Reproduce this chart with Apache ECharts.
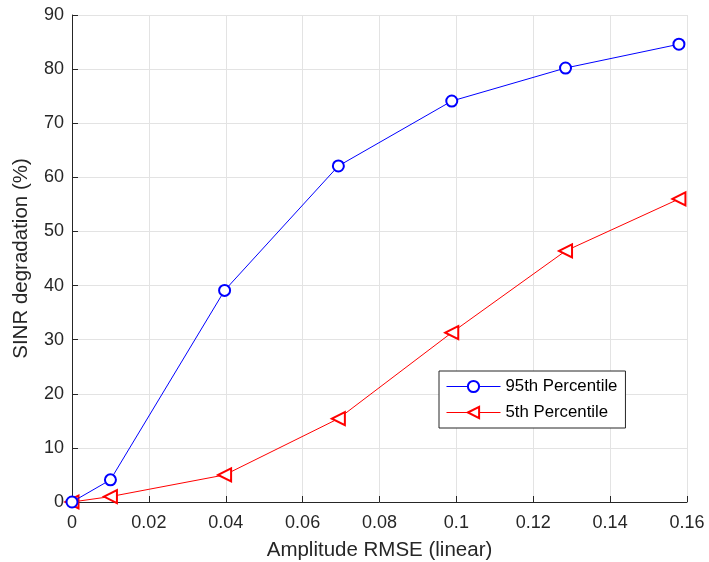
<!DOCTYPE html>
<html>
<head>
<meta charset="utf-8">
<script src="https://cdn.jsdelivr.net/npm/echarts@6/dist/echarts.min.js"></script>
<style>
  html, body { margin: 0; padding: 0; background: #fff; }
  #container { width: 709px; height: 562px; }
</style>
</head>
<body>
<div id="container"></div>
<script>
// amplitude RMSE (linear) at each measured point
var rmse = [0, 0.01, 0.0397, 0.0693, 0.0988, 0.1284, 0.1579]
// SINR degradation (%)
var p95 = [0, 4.1, 39.1, 62.1, 74.1, 80.2, 84.6]
var p5 = [0, 1.0, 5.0, 15.4, 31.3, 46.4, 56.0]
var seriesNames = ['95th Percentile', '5th Percentile']

var font = '"Liberation Sans", Arial, Helvetica, sans-serif'
var axisColor = '#262626'

function pairs(xs, ys) {
  return xs.map(function (x, i) { return [x, ys[i]] })
}

var dom = document.getElementById('container')
var myChart = echarts.init(dom, null, { renderer: 'canvas' })

var option = {
  backgroundColor: '#fff',
  animation: false,
  textStyle: { fontFamily: font },
  grid: {
    left: 72,
    right: 22,
    top: 15,
    bottom: 60,
    containLabel: false,
    outerBoundsMode: 'none'
  },
  legend: {
    orient: 'vertical',
    left: 439,
    top: 371,
    data: seriesNames,
    itemWidth: 54,
    itemHeight: 14,
    itemGap: 9,
    padding: [7, 8, 7, 7],
    backgroundColor: '#fff',
    borderColor: axisColor,
    borderWidth: 1,
    borderRadius: 0,
    lineStyle: { width: 1 },
    itemStyle: { borderWidth: 1 },
    textStyle: {
      color: '#000',
      fontSize: 16.8,
      fontFamily: font
    }
  },
  xAxis: {
    type: 'value',
    min: 0,
    max: 0.16,
    interval: 0.02,
    name: 'Amplitude RMSE (linear)',
    nameLocation: 'middle',
    nameGap: 38,
    nameTextStyle: { color: axisColor, fontSize: 20.5, fontFamily: font },
    axisLine: { onZero: false, lineStyle: { color: axisColor, width: 1 } },
    axisTick: { inside: true, length: 6, lineStyle: { color: axisColor } },
    axisLabel: { color: axisColor, fontSize: 18, fontFamily: font, margin: 12 },
    splitLine: { show: true, lineStyle: { color: '#e3e3e3', width: 1 } }
  },
  yAxis: {
    type: 'value',
    min: 0,
    max: 90,
    interval: 10,
    name: 'SINR degradation (%)',
    nameLocation: 'middle',
    nameGap: 40,
    nameTextStyle: { color: axisColor, fontSize: 20.5, fontFamily: font },
    axisLine: { show: true, onZero: false, lineStyle: { color: axisColor, width: 1 } },
    axisTick: { show: true, inside: true, length: 6, lineStyle: { color: axisColor } },
    axisLabel: { color: axisColor, fontSize: 18, fontFamily: font, margin: 8 },
    splitLine: { show: true, lineStyle: { color: '#e3e3e3', width: 1 } }
  },
  series: [{
    name: seriesNames[0],
    type: 'line',
    data: pairs(rmse, p95),
    symbol: 'emptyCircle',
    symbolSize: 11,
    showAllSymbol: true,
    color: '#0000ff',
    lineStyle: { color: '#0000ff', width: 1 },
    itemStyle: { color: '#0000ff', borderColor: '#0000ff', borderWidth: 1 },
    z: 3
  }, {
    name: seriesNames[1],
    type: 'line',
    data: pairs(rmse, p5),
    symbol: 'emptyTriangle',
    symbolSize: 13,
    symbolRotate: 90,
    showAllSymbol: true,
    color: '#ff0000',
    lineStyle: { color: '#ff0000', width: 1 },
    itemStyle: { color: '#ff0000', borderColor: '#ff0000', borderWidth: 1 },
    z: 2
  }]
}

myChart.setOption(option)
</script>
</body>
</html>
